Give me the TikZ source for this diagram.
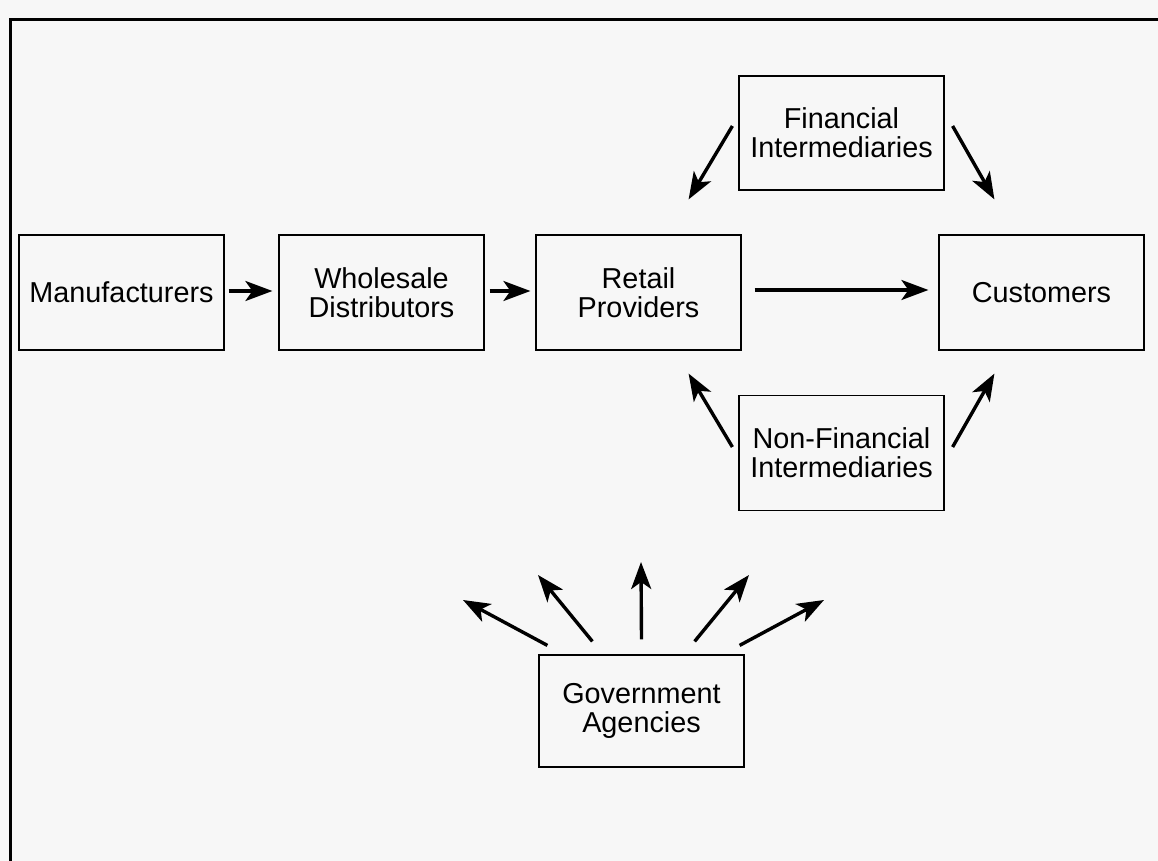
\documentclass[tikz,border=0pt]{standalone}
\usepackage{fontspec}
\setmainfont{Liberation Sans}
\usetikzlibrary{arrows.meta,calc}
\begin{document}
\begin{tikzpicture}[x=1pt,y=-1pt,
  box/.style={draw, line width=1.2pt, minimum width=205pt, minimum height=115pt,
    align=center, inner sep=0pt, font=\fontsize{28.8}{29}\selectfont},
  flow/.style={line width=3.4pt, -{Stealth[length=27pt,width=20pt,inset=7pt]}},
  frameline/.style={line width=3pt}]
\useasboundingbox (0,0) rectangle (1158,861);
\fill[white!97!black] (0,0) rectangle (1158,861);
% outer frame (top and left edges)
\draw[frameline] (1158,20) -- (10,20) -- (10,861);

% main chain
\node[box] (man) at (121.5,292.5) {Manufacturers};
\node[box] (whl) at (381.5,292.5) {Wholesale\\Distributors};
\node[box] (ret) at (638.5,292.5) {Retail\\Providers};
\node[box] (cus) at (1041.5,292.5) {Customers};

% intermediaries and agencies
\node[box, minimum height=114pt] (fin) at (841.5,133) {Financial\\Intermediaries};
\node[box] (nfi) at (841.5,453) {Non-Financial\\Intermediaries};
\node[box, minimum height=112pt] (gov) at (641.5,711) {Government\\Agencies};

% free ends of the agency arrows
\coordinate (g1) at (463,600);
\coordinate (g2) at (538,575);
\coordinate (g3) at (641,562);
\coordinate (g4) at (749,575);
\coordinate (g5) at (824,600);

% flows along the chain
\draw[flow] ($(man.east)+(4,-1.5)$) -- ($(whl.west)+(-6,-1.5)$);
\draw[flow] ($(whl.east)+(5,-1.5)$) -- ($(ret.west)+(-5,-1.5)$);
\draw[flow] ($(ret.east)+(13,-2.5)$) -- ($(cus.west)+(-10,-2.5)$);

% financial intermediaries
\draw[flow] ($(fin.west)+(-6,-7)$) -- ($(ret.north east)+(-53,-35)$);
\draw[flow] ($(fin.east)+(8,-7)$) -- ($(cus.north west)+(56,-35)$);

% non-financial intermediaries
\draw[flow] ($(nfi.west)+(-6,-6)$) -- ($(ret.south east)+(-53,23)$);
\draw[flow] ($(nfi.east)+(8,-6)$) -- ($(cus.south west)+(56,23)$);

% government agencies
\draw[flow] ($(gov.north west)+(9,-9)$) -- (g1);
\draw[flow] ($(gov.north west)+(54,-13)$) -- (g2);
\draw[flow] ($(gov.north)+(0,-15)$) -- (g3);
\draw[flow] ($(gov.north east)+(-50,-13)$) -- (g4);
\draw[flow] ($(gov.north east)+(-5,-9)$) -- (g5);
\end{tikzpicture}
\end{document}
